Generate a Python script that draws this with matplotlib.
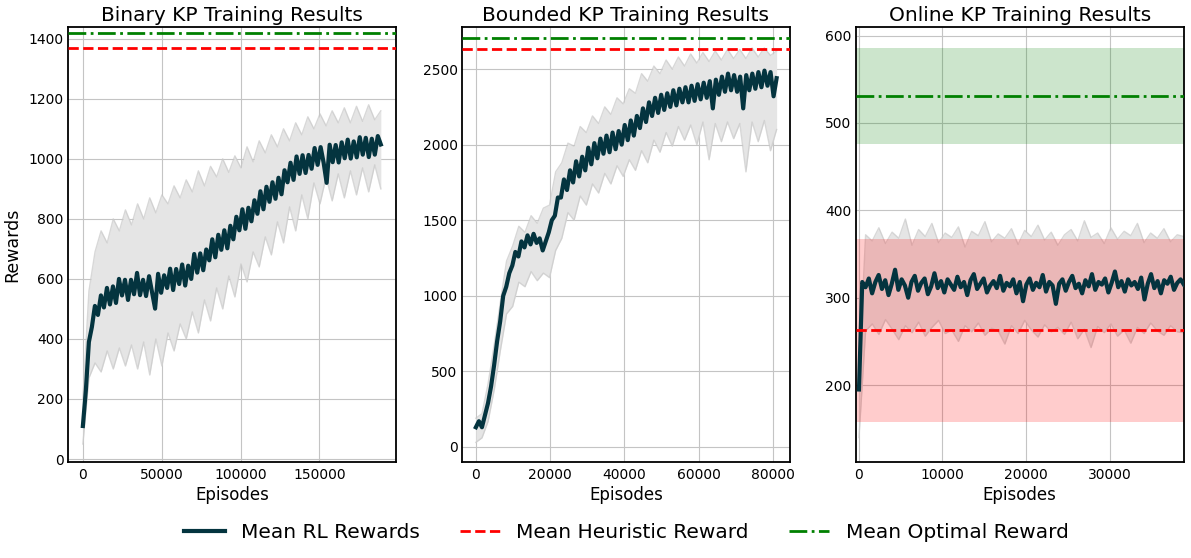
import numpy as np
import matplotlib
matplotlib.use('Agg')
import matplotlib.pyplot as plt

# --- Binary KP ---
binary_end = 189000
binary_mean = [110, 230, 390, 440, 510, 480, 545, 505, 570, 515,
               575, 520, 600, 545, 597, 530, 597, 549, 620, 546,
               597, 543, 609, 555, 501, 617, 554, 612, 570, 634,
               563, 633, 583, 648, 578, 644, 600, 683, 621, 685,
               629, 698, 662, 732, 672, 747, 697, 762, 702, 777,
               732, 807, 762, 832, 767, 837, 792, 862, 817, 892,
               832, 907, 857, 922, 867, 937, 882, 962, 922, 987,
               930, 1008, 950, 1012, 953, 1013, 967, 1036, 980, 1039,
               987, 920, 1047, 989, 1046, 988, 1055, 1002, 1064, 1001,
               1058, 1005, 1072, 1014, 1070, 1006, 1067, 1014, 1076, 1048]
binary_upper = [200, 560, 690, 760, 720, 800, 760, 830, 780, 850,
                800, 870, 820, 880, 850, 910, 870, 930, 890, 960,
                910, 975, 940, 1000, 955, 1010, 970, 1040, 990, 1060,
                1020, 1080, 1040, 1100, 1060, 1120, 1080, 1140, 1100, 1150,
                1110, 1160, 1120, 1170, 1120, 1175, 1125, 1180, 1130, 1160]
binary_lower = [50, 270, 320, 290, 360, 300, 370, 310, 380, 300,
                390, 280, 400, 310, 420, 360, 450, 400, 490, 420,
                530, 460, 570, 500, 610, 540, 650, 590, 690, 640,
                740, 680, 790, 720, 840, 760, 880, 800, 920, 850,
                940, 860, 950, 870, 960, 880, 970, 890, 980, 900]
binary_heuristic = 1370
binary_optimal = 1420

# --- Bounded KP ---
bounded_end = 81000
bounded_mean = [130, 170, 130, 210, 290, 400, 540, 700, 830, 1000,
                1060, 1150, 1200, 1290, 1260, 1360, 1320, 1400, 1340, 1410,
                1350, 1380, 1300, 1360, 1420, 1500, 1530, 1650, 1650, 1770,
                1700, 1830, 1750, 1890, 1790, 1920, 1830, 1980, 1870, 2010,
                1910, 2040, 1940, 2060, 1950, 2080, 1970, 2090, 2000, 2130,
                2030, 2160, 2060, 2190, 2110, 2240, 2150, 2280, 2190, 2310,
                2210, 2330, 2230, 2340, 2250, 2360, 2260, 2370, 2280, 2380,
                2280, 2390, 2290, 2400, 2300, 2410, 2310, 2420, 2240, 2430,
                2330, 2450, 2350, 2470, 2360, 2460, 2350, 2450, 2240, 2460,
                2360, 2470, 2370, 2480, 2380, 2490, 2390, 2480, 2320, 2440]
bounded_upper = [190, 220, 420, 680, 960, 1230, 1330, 1460, 1420, 1530,
                 1480, 1580, 1600, 1820, 1880, 2010, 1990, 2120, 2080, 2190,
                 2140, 2250, 2200, 2310, 2270, 2370, 2340, 2470, 2420, 2520,
                 2470, 2560, 2500, 2580, 2520, 2600, 2540, 2610, 2550, 2620,
                 2560, 2630, 2570, 2630, 2570, 2640, 2580, 2640, 2590, 2620]
bounded_lower = [30, 60, 170, 380, 640, 880, 930, 1090, 1060, 1160,
                 1100, 1150, 1120, 1300, 1380, 1550, 1500, 1660, 1600, 1740,
                 1680, 1810, 1740, 1860, 1790, 1900, 1830, 1960, 1880, 2030,
                 1950, 2080, 1990, 2120, 2030, 2130, 2000, 2150, 1900, 2140,
                 2020, 2150, 2040, 2140, 1820, 2150, 2020, 2160, 1960, 2100]
bounded_heuristic = 2635
bounded_optimal = 2705

# --- Online KP ---
online_end = 38900
online_mean = [195, 318, 312, 322, 305, 318, 326, 310, 320, 303,
               316, 332, 309, 321, 314, 300, 318, 325, 308, 317,
               322, 304, 313, 328, 311, 319, 306, 321, 315, 309,
               324, 312, 318, 303, 320, 327, 310, 316, 322, 306,
               314, 319, 311, 325, 308, 317, 313, 321, 305, 318,
               296, 315, 322, 309, 317, 312, 326, 307, 318, 314,
               293, 316, 321, 308, 318, 325, 311, 316, 305, 320,
               313, 327, 309, 318, 315, 322, 306, 317, 330, 312,
               319, 307, 321, 314, 318, 310, 323, 298, 316, 327,
               311, 319, 305, 320, 316, 324, 309, 317, 321, 315]
online_upper = [210, 372, 365, 380, 362, 375, 368, 390, 360, 378,
                370, 385, 363, 374, 369, 381, 358, 376, 371, 387,
                364, 373, 368, 379, 361, 377, 370, 383, 366, 375,
                360, 372, 378, 365, 388, 369, 374, 362, 380, 367,
                376, 371, 385, 363, 374, 368, 379, 364, 372, 370]
online_lower = [140, 262, 270, 258, 275, 264, 252, 268, 260, 272,
                256, 266, 274, 259, 263, 250, 268, 261, 271, 257,
                265, 262, 247, 268, 259, 274, 263, 255, 269, 261,
                266, 258, 272, 253, 264, 243, 267, 260, 270, 256,
                263, 248, 266, 259, 271, 262, 257, 268, 261, 260]
online_heuristic = 263
online_heuristic_band = (158, 367)
online_optimal = 531
online_optimal_band = (476, 586)

MEAN_COLOR = '#04343f'


def draw_panel(ax, end, mean, upper, lower, heuristic, optimal):
    x_mean = np.linspace(0, end, len(mean))
    x_env = np.linspace(0, end, len(upper))
    ax.fill_between(x_env, lower, upper, color='#e5e5e5', lw=0, zorder=1)
    ax.plot(x_env, upper, color='#c8c8c8', lw=1, alpha=0.7, zorder=1.5)
    ax.plot(x_env, lower, color='#c8c8c8', lw=1, alpha=0.7, zorder=1.5)
    ax.plot(x_mean, mean, color=MEAN_COLOR, lw=3, zorder=3, label='Mean RL Rewards')
    ax.axhline(heuristic, color='red', ls='--', lw=2, zorder=4, label='Mean Heuristic Reward')
    ax.axhline(optimal, color='green', ls='-.', lw=2, zorder=4, label='Mean Optimal Reward')


def style(ax, title):
    ax.set_title(title, fontsize=14.5, pad=4)
    ax.set_xlabel('Episodes', fontsize=12, labelpad=3)
    ax.grid(True, color='#c4c4c4', lw=0.8, zorder=0)
    ax.set_axisbelow(True)
    ax.tick_params(axis='both', length=0, labelsize=10)
    ax.tick_params(axis='y', pad=3)
    ax.tick_params(axis='x', pad=4)
    for sp in ax.spines.values():
        sp.set_color('black')
        sp.set_linewidth(1.3)


fig, axes = plt.subplots(1, 3, figsize=(11.91, 5.58), dpi=100)
fig.subplots_adjust(left=0.057, right=0.994, top=0.952, bottom=0.172, wspace=0.2)

ax = axes[0]
draw_panel(ax, binary_end, binary_mean, binary_upper, binary_lower, binary_heuristic, binary_optimal)
ax.set_xlim(-9500, 198700)
ax.set_ylim(-10, 1440)
ax.set_xticks([0, 50000, 100000, 150000])
ax.set_yticks(range(0, 1401, 200))
ax.set_ylabel('Rewards', fontsize=12.5, labelpad=5)
style(ax, 'Binary KP Training Results')

ax = axes[1]
draw_panel(ax, bounded_end, bounded_mean, bounded_upper, bounded_lower, bounded_heuristic, bounded_optimal)
ax.set_xlim(-3800, 84600)
ax.set_ylim(-100, 2780)
ax.set_xticks(range(0, 80001, 20000))
ax.set_yticks(range(0, 2501, 500))
style(ax, 'Bounded KP Training Results')

ax = axes[2]
draw_panel(ax, online_end, online_mean, online_upper, online_lower, online_heuristic, online_optimal)
ax.axhspan(*online_heuristic_band, color='red', alpha=0.2, lw=0, zorder=2)
ax.axhspan(*online_optimal_band, color='green', alpha=0.2, lw=0, zorder=2)
ax.set_xlim(-400, 38900)
ax.set_ylim(112, 610)
ax.set_xticks(range(0, 30001, 10000))
ax.set_yticks(range(200, 601, 100))
style(ax, 'Online KP Training Results')

handles, labels = axes[0].get_legend_handles_labels()
fig.legend(handles, labels, loc='center', ncol=3, frameon=False,
           fontsize=14.5, bbox_to_anchor=(0.526, 0.045), columnspacing=2.0, handlelength=2.0)

fig.savefig('out.png', dpi=100)
